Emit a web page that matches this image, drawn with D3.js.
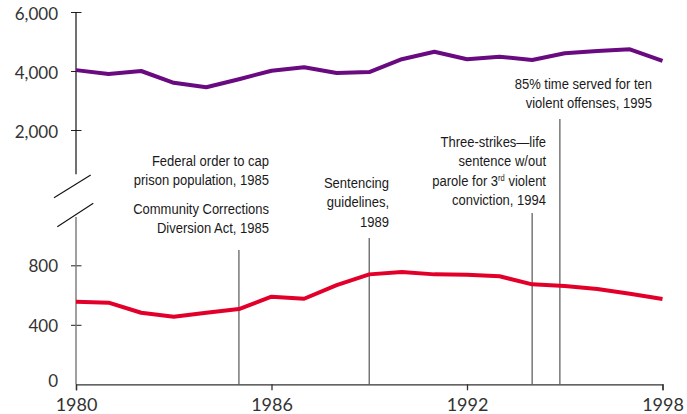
<!DOCTYPE html>
<html lang="en">
<head>
    <meta charset="UTF-8">
    <title>Chart</title>
    <script src="https://cdn.jsdelivr.net/npm/d3@7"></script>
    <style>
        body {margin: 0; background: #fff;}
        .tick text {font-family: Lato, "DejaVu Sans", sans-serif; fill: #333;}
        .note {font-family: "Liberation Sans", Arial, sans-serif; font-size: 15.5px; fill: #1a1a1a;}
    </style>
</head>
<body>
<div id="graf"></div>
<script>
    // data
    let years = [1980, 1981, 1982, 1983, 1984, 1985, 1986, 1987, 1988, 1989,
                 1990, 1991, 1992, 1993, 1994, 1995, 1996, 1997, 1998];
    let seriesTop = [4030, 3900, 4000, 3600, 3450, 3720, 4010, 4125, 3930, 3965,
                     4400, 4650, 4400, 4485, 4375, 4600, 4680, 4735, 4340];
    let seriesBottom = [555, 549, 481, 454, 481, 506, 589, 575, 667, 739,
                        755, 739, 737, 726, 672, 661, 641, 609, 573];
    let xTicks = [1980, 1986, 1992, 1998];
    let topTicks = [2000, 4000, 6000];
    let bottomTicks = [0, 400, 800];
    let noteYears = [1985, 1989, 1994, 1994.85];
    let noteTexts = [
        ["Federal order to cap", "prison population, 1985", "", "Community Corrections", "Diversion Act, 1985"],
        ["Sentencing", "guidelines,", "1989"],
        ["Three-strikes\u2014life", "sentence w/out", "parole for 3|rd| violent", "conviction, 1994"],
        ["85% time served for ten", "violent offenses, 1995"]
    ];

    // layout
    let width = 687, height = 414;
    let narrow = 0.84; // squeeze Liberation Sans into a narrow face
    let noteLayout = [
        {lineTop: 250, textRight: 269, textY: 166, gap: 19.5},
        {lineTop: 238, textRight: 389, textY: 188, gap: 19.5},
        {lineTop: 213, textRight: 546, textY: 147, gap: 19.3},
        {lineTop: 119, textRight: 652, textY: 89, gap: 19.3}
    ];

    let svg = d3.select("#graf")
        .append("svg")
        .attr("width", width)
        .attr("height", height);

    let x = d3.scaleLinear().domain([1980, 1998]).range([76, 662.5]);
    let yTop = d3.scaleLinear().domain([2000, 6000]).range([130, 12]);
    let yBot = d3.scaleLinear().domain([0, 800]).range([384.3, 265.3]);

    // annotation lines (behind the data)
    noteYears.forEach(function(yr, i) {
        svg.append("line")
            .attr("x1", x(yr)).attr("x2", x(yr))
            .attr("y1", noteLayout[i].lineTop).attr("y2", yBot(0))
            .attr("stroke", "#6e6e6e")
            .attr("stroke-width", 1.4);
    });

    // top y axis
    let gTop = svg.append("g")
        .attr("transform", "translate(" + x(1980) + ",0)")
        .call(d3.axisLeft(yTop).tickValues(topTicks).tickSize(5).tickPadding(13)
            .tickFormat(d3.format(",")));
    gTop.select(".domain").remove();
    gTop.selectAll(".tick line").attr("x1", 5.5).attr("stroke", "#222");
    gTop.selectAll(".tick text").attr("font-size", 17).attr("dy", "0.45em");
    svg.append("line")
        .attr("x1", x(1980)).attr("x2", x(1980))
        .attr("y1", yTop(6000)).attr("y2", yTop(500))
        .attr("stroke", "#111").attr("stroke-width", 1.2);

    // bottom y axis
    let gBot = svg.append("g")
        .attr("transform", "translate(" + x(1980) + ",0)")
        .call(d3.axisLeft(yBot).tickValues(bottomTicks).tickSize(5).tickPadding(13));
    gBot.select(".domain").remove();
    gBot.selectAll(".tick line").attr("x1", 5.5).attr("stroke", "#222")
        .filter(function(d) { return d === 0; }).remove();
    gBot.selectAll(".tick text").attr("font-size", 17).attr("dy", "0.38em")
        .filter(function(d) { return d === 0; }).attr("dy", "0.1em");
    svg.append("line")
        .attr("x1", x(1980)).attr("x2", x(1980))
        .attr("y1", yBot(1125)).attr("y2", yBot(0))
        .attr("stroke", "#777").attr("stroke-width", 1.4);

    // axis break slashes
    [[54, 197.7, 90.7, 175], [57.3, 226.7, 93.3, 203.3]].forEach(function(s) {
        svg.append("line")
            .attr("x1", s[0]).attr("y1", s[1]).attr("x2", s[2]).attr("y2", s[3])
            .attr("stroke", "#111").attr("stroke-width", 1.1);
    });

    // x axis
    let gx = svg.append("g")
        .attr("transform", "translate(0," + yBot(0) + ")")
        .call(d3.axisBottom(x).tickValues(xTicks).tickSize(6).tickPadding(8)
            .tickFormat(d3.format("d")));
    gx.select(".domain").attr("stroke", "#333").attr("stroke-width", 1.3);
    gx.selectAll(".tick line").attr("stroke", "#333").attr("stroke-width", 1.3);
    gx.selectAll(".tick text").attr("font-size", 18);

    // series lines
    let dataTop = years.map(function(y, i) { return {year: y, v: seriesTop[i]}; });
    let dataBot = years.map(function(y, i) { return {year: y, v: seriesBottom[i]}; });

    svg.append("path")
        .datum(dataTop)
        .attr("fill", "none")
        .attr("stroke", "#6a0a80")
        .attr("stroke-width", 4)
        .attr("stroke-linejoin", "round")
        .attr("d", d3.line()
            .x(function(d) { return x(d.year) })
            .y(function(d) { return yTop(d.v) })
        );

    svg.append("path")
        .datum(dataBot)
        .attr("fill", "none")
        .attr("stroke", "#e2002b")
        .attr("stroke-width", 4)
        .attr("stroke-linejoin", "round")
        .attr("d", d3.line()
            .x(function(d) { return x(d.year) })
            .y(function(d) { return yBot(d.v) })
        );

    // annotation texts
    noteTexts.forEach(function(lines, i) {
        let L = noteLayout[i];
        let t = svg.append("text")
            .attr("class", "note")
            .attr("text-anchor", "end")
            .attr("transform", "translate(" + L.textRight + ",0) scale(" + narrow + ",1)");
        let row = 0;
        lines.forEach(function(line) {
            if (line === "") { row += 0.45; return; }
            let tsp = t.append("tspan")
                .attr("x", 0)
                .attr("y", L.textY + row * L.gap);
            // |..| marks a superscript part
            let parts = line.split("|");
            parts.forEach(function(p, k) {
                if (k % 2 === 1) {
                    tsp.append("tspan").attr("font-size", 9).attr("dy", -5).text(p);
                } else {
                    let s = tsp.append("tspan").text(p);
                    if (k > 0) s.attr("dy", 5);
                }
            });
            row += 1;
        });
    });
</script>
</body>
</html>
